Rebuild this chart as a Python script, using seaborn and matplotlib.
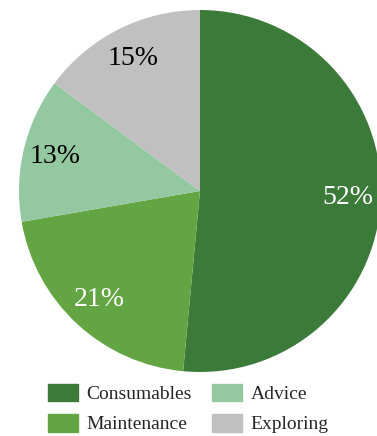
import matplotlib
matplotlib.use('Agg')
import matplotlib.pyplot as plt
import matplotlib.patches as mpatches
import seaborn as sns

sns.set_style('white')
plt.rcParams['font.family'] = ['Liberation Serif', 'DejaVu Serif']

# data
categories = ['Consumables', 'Maintenance', 'Advice', 'Exploring']
shares = [52, 21, 13, 15]
colors = ['#3c7a3a', '#63a542', '#94c8a0', '#c0c0c0']
text_colors = ['white', 'white', 'black', 'black']

fig = plt.figure(figsize=(3.77, 4.36), dpi=100)
ax = fig.add_axes([19 / 377, 64 / 436, 362 / 377, 362 / 436])

wedges, texts = ax.pie(shares, colors=colors, startangle=90, counterclock=False,
                       labels=[f'{v}%' for v in shares], labeldistance=0.82,
                       radius=1, wedgeprops={'linewidth': 0})
for t, c in zip(texts, text_colors):
    t.set_color(c)
    t.set_fontsize(20)
    t.set_ha('center')
    t.set_va('center')
ax.set_xlim(-1, 1)
ax.set_ylim(-1, 1)
ax.set_aspect('equal')
ax.axis('off')

handles = [mpatches.Patch(color=c, label=l) for c, l in zip(colors, categories)]
# column-major order: Consumables/Maintenance in col 1, Advice/Exploring in col 2
fig.legend(handles=handles, loc='center', bbox_to_anchor=(0.499, 0.063), ncol=2,
           frameon=False, fontsize=14, handlelength=1.55, handleheight=1.03,
           handletextpad=0.46, columnspacing=1.0, labelspacing=0.55, borderpad=0)

fig.savefig('out.png', dpi=100)
